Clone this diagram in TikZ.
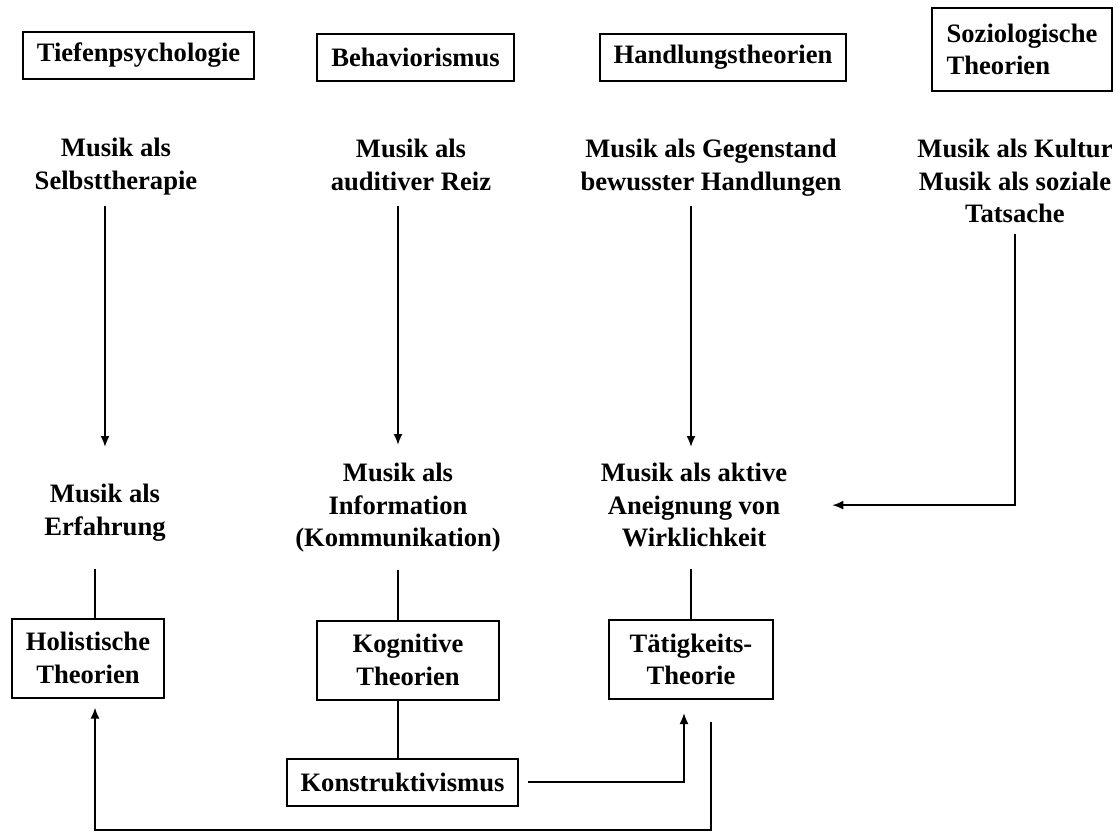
\documentclass[tikz,border=0pt]{standalone}
\usepackage{fontspec}
\setmainfont{Liberation Serif}
\usetikzlibrary{arrows.meta}

\begin{document}
\begin{tikzpicture}%
        [x=1pt, y=-1pt,
        musicText/.style={inner sep=0pt, align=center, anchor=north, font=\bfseries\fontsize{26.6}{32.5}\selectfont},
        theoryBox/.style={draw, line width=2pt, inner xsep=14pt, inner ysep=0pt, minimum height=47pt, align=center, font=\bfseries\fontsize{26.6}{32.5}\selectfont},
        theoryBoxTall/.style={theoryBox, minimum height=79pt},
        link/.style={line width=1.8pt},
        linkArrow/.style={link, -{Latex[length=11pt,width=9pt]}}]
%
\useasboundingbox (0,0) rectangle (1120,833);
%
%% Columns of the lower connectors
%%
\coordinate (colA) at (95,0);
\coordinate (colB) at (398,0);
\coordinate (bottom) at (0,830);
%%
%% The schools on top
%%
\node[theoryBox] (tiefen) at (138.5,55.5) {Tiefenpsychologie};
\node[theoryBox] (behav) at (415.5,57.5) {Behaviorismus};
\node[theoryBox] (handl) at (723,57.5) {Handlungstheorien};
\node[theoryBox, align=left, minimum height=83pt, inner xsep=15pt] (sozio) at (1022,49.5) {Soziologische\\Theorien};
%%
%% What music is for each of them
%%
\node[musicText] (selbst) at (116,138) {Musik als\\Selbsttherapie};
\node[musicText] (reiz) at (411,139) {Musik als\\auditiver Reiz};
\node[musicText] (gegen) at (711,139) {Musik als Gegenstand\\bewusster Handlungen};
\node[musicText] (kultur) at (1015,139) {Musik als Kultur\\Musik als soziale\\Tatsache};
%%
\node[musicText] (erfahrung) at (105,484) {Musik als\\Erfahrung};
\node[musicText] (info) at (398,463) {Musik als\\Information\\(Kommunikation)};
\node[musicText] (aktiv) at (694,463) {Musik als aktive\\Aneignung von\\Wirklichkeit};
%%
%% The theories below
%%
\node[theoryBoxTall] (holist) at (88,658) {Holistische\\Theorien};
\node[theoryBoxTall, minimum width=182pt] (kogn) at (408,660) {Kognitive\\Theorien};
\node[theoryBoxTall, minimum width=164pt] (taet) at (691,659.5) {Tätigkeits-\\Theorie};
\node[theoryBox] (konstr) at (402.5,782) {Konstruktivismus};
\coordinate (taetout) at ([xshift=20pt]taet.south);
%%
%% Arrows
%%
\draw[linkArrow, shorten <=11pt, shorten >=37pt] (selbst.south -| erfahrung) -- (erfahrung.north);
\draw[linkArrow, shorten <=15pt, shorten >=18pt] (reiz.south -| info) -- (info.north);
\draw[linkArrow, shorten <=10pt, shorten >=16pt] (gegen.south -| taet) -- (taet |- aktiv.north);
\draw[linkArrow, shorten <=11pt, shorten >=45pt] (kultur.south) |- (aktiv.east);
%%
\draw[link, shorten <=28pt] (erfahrung.south -| colA) -- (holist.north -| colA);
\draw[link, shorten <=17pt] (info.south -| colB) -- (kogn.north -| colB);
\draw[link, shorten <=22pt] (aktiv.south -| taet) -- (taet.north);
\draw[link] (kogn.south -| colB) -- (konstr.north -| colB);
%%
\draw[linkArrow, shorten <=9pt, shorten >=13pt] (konstr.east) -| ([xshift=-7pt]taet.south);
\draw[linkArrow, shorten <=22pt, shorten >=9pt] (taetout) -- (taetout |- bottom) -| (holist.south -| colA);

\end{tikzpicture}
\end{document}
